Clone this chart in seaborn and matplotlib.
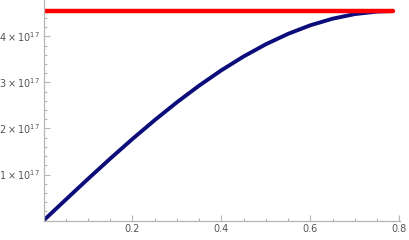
import numpy as np
import pandas as pd
import seaborn as sns
import matplotlib.pyplot as plt
from matplotlib.ticker import FixedLocator, MultipleLocator

# values
x_vals = [0.0, 0.05, 0.1, 0.15, 0.2, 0.25, 0.3, 0.35, 0.4, 0.45, 0.5,
          0.55, 0.6, 0.65, 0.7, 0.75, 0.785]
y_vals = [0.0, 0.454, 0.904, 1.345, 1.772, 2.181, 2.569, 2.931, 3.264,
          3.564, 3.829, 4.055, 4.241, 4.384, 4.484, 4.539, 4.55]
y_vals = [v * 1e17 for v in y_vals]
limit_x = [0.0, 0.785]
limit_y = [4.55e17, 4.55e17]

x_ticks = [0.2, 0.4, 0.6, 0.8]
x_tick_labels = ['0.2', '0.4', '0.6', '0.8']
y_ticks = [1e17, 2e17, 3e17, 4e17]
y_tick_labels = [r'$1\times10^{17}$', r'$2\times10^{17}$',
                 r'$3\times10^{17}$', r'$4\times10^{17}$']

curve = pd.DataFrame({'x': x_vals, 'y': y_vals})
limit = pd.DataFrame({'x': limit_x, 'y': limit_y})

sns.set_style('white')
fig = plt.figure(figsize=(4.09, 2.4), dpi=100)
ax = fig.add_axes([0.1064, 0.081, 0.872, 0.919])

sns.lineplot(data=curve, x='x', y='y', color='#0c0c7a', linewidth=2.8, ax=ax)
sns.lineplot(data=limit, x='x', y='y', color='#ff0000', linewidth=3.2, ax=ax)

ax.set_xlim(0, 0.802)
ax.set_ylim(0, 4.79e17)
ax.set_xlabel('')
ax.set_ylabel('')

for side in ['top', 'right']:
    ax.spines[side].set_visible(False)
for side in ['left', 'bottom']:
    ax.spines[side].set_color('#b5b5b5')
    ax.spines[side].set_linewidth(0.9)

ax.xaxis.set_major_locator(FixedLocator(x_ticks))
ax.set_xticklabels(x_tick_labels)
ax.xaxis.set_minor_locator(MultipleLocator(0.05))
ax.yaxis.set_major_locator(FixedLocator(y_ticks))
ax.set_yticklabels(y_tick_labels)
ax.yaxis.set_minor_locator(MultipleLocator(0.2e17))

ax.tick_params(which='both', direction='in', color='#b5b5b5', width=0.8,
               labelcolor='#555555', labelsize=7, bottom=True, left=True)
ax.tick_params(which='major', length=4, pad=2.5)
ax.tick_params(which='minor', length=2.5)

fig.savefig('out.png', dpi=100)
